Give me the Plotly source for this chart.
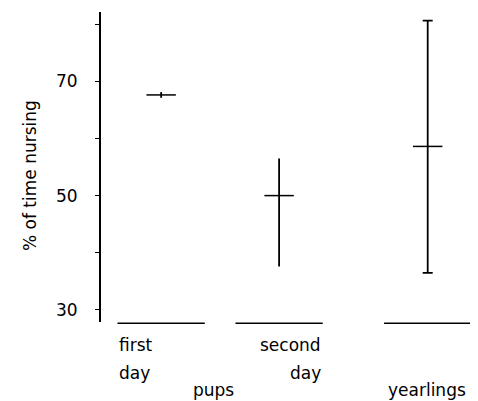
import plotly.graph_objects as go

# groups along the x axis
groups = ["first day", "second day", "yearlings"]
x_pos = [1.0, 2.0, 3.26]

# % of time nursing: mean with low / high range
means = [67.6, 50.0, 58.6]
lows = [67.1, 37.6, 36.5]
highs = [68.1, 56.5, 80.6]

# y axis ticks
tick_vals = [30, 40, 50, 60, 70, 80]
tick_text = ["30", "", "50", "", "70", ""]

# group labels under the baselines (y in data units, below the axis)
label_text = ["first", "day", "second", "day", "pups", "yearlings"]
label_x = [0.627, 0.627, 2.373, 2.373, 1.44, 3.254]
label_y = [23.9, 19.0, 23.9, 19.0, 16.0, 16.0]
label_anchor = ["left", "left", "right", "right", "center", "center"]

cap_widths = [0, 0, 5]
base_half = 0.37
y_min, y_max = 27.9, 82.1
FONT = "DejaVu Sans"
FS = 17

fig = go.Figure()

for xi, m, lo, hi, cw in zip(x_pos, means, lows, highs, cap_widths):
    fig.add_trace(go.Scatter(
        x=[xi], y=[m], mode="markers",
        marker=dict(symbol="line-ew", size=21, color="black",
                    line=dict(width=1.5, color="black")),
        error_y=dict(type="data", symmetric=False,
                     array=[hi - m], arrayminus=[m - lo],
                     color="black", thickness=1.8, width=cw),
        showlegend=False, cliponaxis=False,
    ))

# baselines under each group
for xi in x_pos:
    fig.add_shape(type="line", xref="x", yref="paper",
                  x0=xi - base_half, x1=xi + base_half, y0=-0.004, y1=-0.004,
                  line=dict(color="black", width=1.5))


def to_paper(v):
    return (v - y_min) / (y_max - y_min)


for t, lx, ly, anc in zip(label_text, label_x, label_y, label_anchor):
    fig.add_annotation(x=lx, y=to_paper(ly), xref="x", yref="paper", text=t,
                       showarrow=False, xanchor=anc, yanchor="middle",
                       font=dict(family=FONT, size=FS, color="black"))

fig.add_annotation(x=-0.19, y=0.474, xref="paper", yref="paper",
                   text="% of time nursing", textangle=-90, showarrow=False,
                   xanchor="center", yanchor="middle",
                   font=dict(family=FONT, size=FS, color="black"))

# page body has an 8px margin, so the figure is shrunk to fit the window
fig.update_layout(
    width=470, height=393,
    margin=dict(l=93, r=3, t=4, b=79),
    paper_bgcolor="white", plot_bgcolor="white",
    font=dict(family=FONT, size=FS, color="black"),
    xaxis=dict(range=[0.49, 3.661], visible=False, fixedrange=True),
    yaxis=dict(range=[y_min, y_max], showgrid=False, zeroline=False,
               showline=True, linecolor="black", linewidth=1.8,
               ticks="outside", ticklen=4, tickwidth=1.2, tickcolor="black",
               tickvals=tick_vals, ticktext=tick_text,
               ticklabelstandoff=14,
               tickfont=dict(family=FONT, size=FS, color="black")),
)

fig.write_html("out.html")
